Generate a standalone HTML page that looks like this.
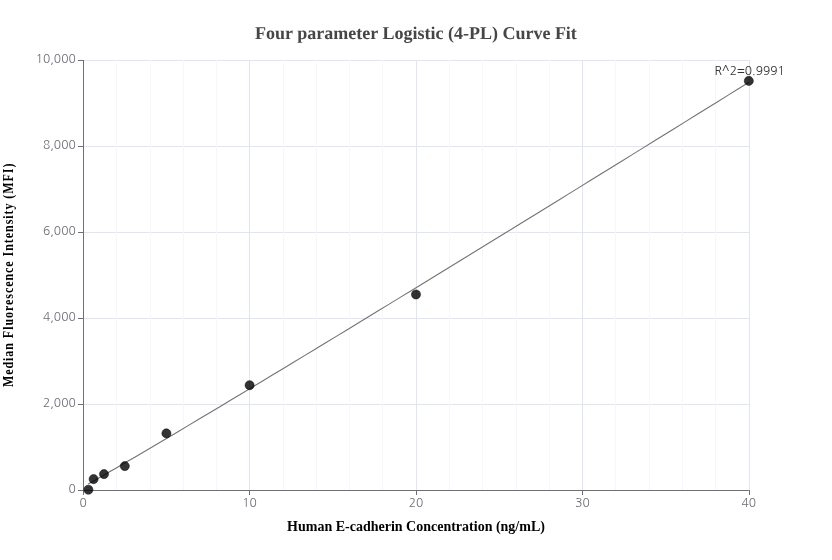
<!DOCTYPE html>
<html><head><meta charset="utf-8"><style>
html,body{margin:0;padding:0;background:#fff;width:832px;height:560px;overflow:hidden}
svg{display:block;will-change:transform}
.tl{font-family:"NanumGothic","Liberation Sans",sans-serif;font-size:12px;fill:#6E7079}
.r2{font-family:"NanumGothic","Liberation Sans",sans-serif;font-size:12px;fill:#333}
.title{text-rendering:geometricPrecision;font-family:"Liberation Serif",serif;font-weight:bold;font-size:18px;fill:#464646}
.an{font-family:"Liberation Serif",serif;font-weight:bold;font-size:14px;fill:#000}
</style></head><body>
<svg width="832" height="560" viewBox="0 0 832 560">
<line x1="83" y1="404.5" x2="749" y2="404.5" stroke="#E0E6F1"/>
<line x1="83" y1="318.5" x2="749" y2="318.5" stroke="#E0E6F1"/>
<line x1="83" y1="232.5" x2="749" y2="232.5" stroke="#E0E6F1"/>
<line x1="83" y1="146.5" x2="749" y2="146.5" stroke="#E0E6F1"/>
<line x1="83" y1="60.5" x2="749" y2="60.5" stroke="#E0E6F1"/>
<line x1="249.5" y1="60" x2="249.5" y2="490" stroke="#E0E6F1"/>
<line x1="416.5" y1="60" x2="416.5" y2="490" stroke="#E0E6F1"/>
<line x1="582.5" y1="60" x2="582.5" y2="490" stroke="#E0E6F1"/>
<line x1="749.5" y1="60" x2="749.5" y2="490" stroke="#E0E6F1"/>
<line x1="116.5" y1="60" x2="116.5" y2="490" stroke="#F4F7FD"/>
<line x1="150.5" y1="60" x2="150.5" y2="490" stroke="#F4F7FD"/>
<line x1="183.5" y1="60" x2="183.5" y2="490" stroke="#F4F7FD"/>
<line x1="216.5" y1="60" x2="216.5" y2="490" stroke="#F4F7FD"/>
<line x1="283.5" y1="60" x2="283.5" y2="490" stroke="#F4F7FD"/>
<line x1="316.5" y1="60" x2="316.5" y2="490" stroke="#F4F7FD"/>
<line x1="349.5" y1="60" x2="349.5" y2="490" stroke="#F4F7FD"/>
<line x1="382.5" y1="60" x2="382.5" y2="490" stroke="#F4F7FD"/>
<line x1="449.5" y1="60" x2="449.5" y2="490" stroke="#F4F7FD"/>
<line x1="482.5" y1="60" x2="482.5" y2="490" stroke="#F4F7FD"/>
<line x1="516.5" y1="60" x2="516.5" y2="490" stroke="#F4F7FD"/>
<line x1="549.5" y1="60" x2="549.5" y2="490" stroke="#F4F7FD"/>
<line x1="615.5" y1="60" x2="615.5" y2="490" stroke="#F4F7FD"/>
<line x1="649.5" y1="60" x2="649.5" y2="490" stroke="#F4F7FD"/>
<line x1="682.5" y1="60" x2="682.5" y2="490" stroke="#F4F7FD"/>
<line x1="715.5" y1="60" x2="715.5" y2="490" stroke="#F4F7FD"/>
<line x1="83.5" y1="60" x2="83.5" y2="490" stroke="#6E7079"/>
<line x1="83.2" y1="490.5" x2="748.8" y2="490.5" stroke="#6E7079"/>
<line x1="78" y1="490.5" x2="83" y2="490.5" stroke="#6E7079"/>
<text x="75.7" y="492.9" text-anchor="end" class="tl">0</text>
<line x1="78" y1="404.5" x2="83" y2="404.5" stroke="#6E7079"/>
<text x="75.7" y="406.9" text-anchor="end" class="tl">2,000</text>
<line x1="78" y1="318.5" x2="83" y2="318.5" stroke="#6E7079"/>
<text x="75.7" y="320.9" text-anchor="end" class="tl">4,000</text>
<line x1="78" y1="232.5" x2="83" y2="232.5" stroke="#6E7079"/>
<text x="75.7" y="234.9" text-anchor="end" class="tl">6,000</text>
<line x1="78" y1="146.5" x2="83" y2="146.5" stroke="#6E7079"/>
<text x="75.7" y="148.9" text-anchor="end" class="tl">8,000</text>
<line x1="78" y1="60.5" x2="83" y2="60.5" stroke="#6E7079"/>
<text x="75.7" y="62.9" text-anchor="end" class="tl">10,000</text>
<line x1="83.5" y1="490" x2="83.5" y2="495" stroke="#6E7079"/>
<text x="83.2" y="507" text-anchor="middle" class="tl">0</text>
<line x1="249.5" y1="490" x2="249.5" y2="495" stroke="#6E7079"/>
<text x="249.6" y="507" text-anchor="middle" class="tl">10</text>
<line x1="416.5" y1="490" x2="416.5" y2="495" stroke="#6E7079"/>
<text x="416.0" y="507" text-anchor="middle" class="tl">20</text>
<line x1="582.5" y1="490" x2="582.5" y2="495" stroke="#6E7079"/>
<text x="582.4" y="507" text-anchor="middle" class="tl">30</text>
<line x1="749.5" y1="490" x2="749.5" y2="495" stroke="#6E7079"/>
<text x="748.8" y="507" text-anchor="middle" class="tl">40</text>
<path d="M88.20,483.93 L91.33,482.19 L94.45,480.44 L97.57,478.67 L100.69,476.89 L103.81,475.11 L106.93,473.32 L110.06,471.52 L113.18,469.72 L116.30,467.92 L124.62,463.09 L135.21,456.91 L145.79,450.70 L156.37,444.46 L166.96,438.21 L177.54,431.93 L188.12,425.64 L198.70,419.33 L209.29,413.01 L219.87,406.67 L230.45,400.32 L241.03,393.97 L251.62,387.60 L262.20,381.22 L272.78,374.84 L283.36,368.44 L293.95,362.04 L304.53,355.63 L315.11,349.21 L325.69,342.79 L336.28,336.36 L346.86,329.92 L357.44,323.48 L368.03,317.03 L378.61,310.57 L389.19,304.11 L399.77,297.65 L410.36,291.18 L420.94,284.70 L431.52,278.23 L442.10,271.74 L452.69,265.25 L463.27,258.76 L473.85,252.27 L484.43,245.77 L495.02,239.26 L505.60,232.75 L516.18,226.24 L526.76,219.73 L537.35,213.21 L547.93,206.69 L558.51,200.16 L569.10,193.64 L579.68,187.10 L590.26,180.57 L600.84,174.03 L611.43,167.49 L622.01,160.95 L632.59,154.40 L643.17,147.86 L653.76,141.30 L664.34,134.75 L674.92,128.19 L685.50,121.64 L696.09,115.07 L706.67,108.51 L717.25,101.94 L727.83,95.38 L738.42,88.81 L749.00,82.23" fill="none" stroke="#747474" stroke-width="1.1"/>
<circle cx="88.40" cy="489.70" r="4.55" fill="#000" fill-opacity="0.8" stroke="#000" stroke-opacity="0.55" stroke-width="0.9"/>
<circle cx="93.60" cy="479.10" r="4.55" fill="#000" fill-opacity="0.8" stroke="#000" stroke-opacity="0.55" stroke-width="0.9"/>
<circle cx="104.00" cy="474.10" r="4.55" fill="#000" fill-opacity="0.8" stroke="#000" stroke-opacity="0.55" stroke-width="0.9"/>
<circle cx="124.80" cy="466.10" r="4.55" fill="#000" fill-opacity="0.8" stroke="#000" stroke-opacity="0.55" stroke-width="0.9"/>
<circle cx="166.40" cy="433.40" r="4.55" fill="#000" fill-opacity="0.8" stroke="#000" stroke-opacity="0.55" stroke-width="0.9"/>
<circle cx="249.60" cy="385.20" r="4.55" fill="#000" fill-opacity="0.8" stroke="#000" stroke-opacity="0.55" stroke-width="0.9"/>
<circle cx="416.00" cy="294.50" r="4.55" fill="#000" fill-opacity="0.8" stroke="#000" stroke-opacity="0.55" stroke-width="0.9"/>
<circle cx="748.80" cy="80.90" r="4.55" fill="#000" fill-opacity="0.8" stroke="#000" stroke-opacity="0.55" stroke-width="0.9"/>
<text x="714.4" y="75.2" class="r2">R^2=0.9991</text>
<text x="416" y="39" text-anchor="middle" class="title">Four parameter Logistic (4-PL) Curve Fit</text>
<text x="416" y="531" text-anchor="middle" class="an">Human E-cadherin Concentration (ng/mL)</text>
<text transform="translate(13,275.3) rotate(-90) scale(0.86,1)" text-anchor="middle" class="an" textLength="260" lengthAdjust="spacing">Median Fluorescence Intensity (MFI)</text>
</svg>
</body></html>
